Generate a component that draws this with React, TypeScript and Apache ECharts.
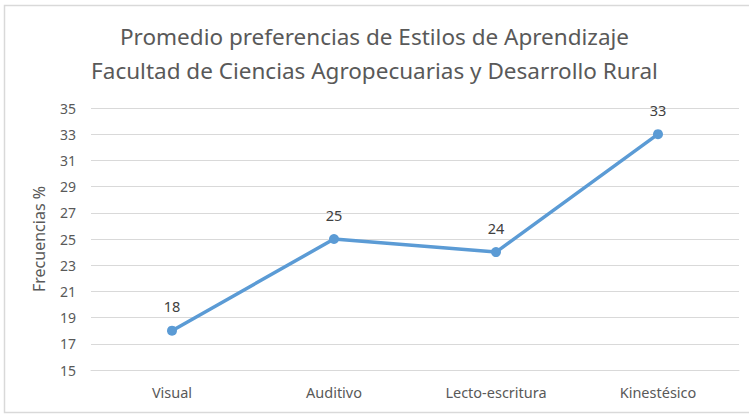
import React, { useEffect, useRef } from "react";
import * as echarts from "echarts";

const categories = ["Visual", "Auditivo", "Lecto-escritura", "Kinestésico"];
const values = [18, 25, 24, 33];
const titleLines = [
  "Promedio preferencias de Estilos de Aprendizaje",
  "Facultad de Ciencias Agropecuarias y Desarrollo Rural",
];
const yAxisName = "Frecuencias %";

export default function App() {
  const ref = useRef<HTMLDivElement>(null);
  useEffect(() => {
    if (!ref.current) return;
    const chart = echarts.init(ref.current, undefined, { renderer: "svg" });
    const font = "'Noto Sans', sans-serif";
    chart.setOption({
      animation: false,
      backgroundColor: "#ffffff",
      textStyle: { fontFamily: font },
      title: {
        text: titleLines.join("\n"),
        left: "center",
        top: 14,
        padding: [5, 0, 5, 12],
        textStyle: {
          fontFamily: font,
          fontSize: 22.5,
          fontWeight: "normal",
          color: "#595959",
          lineHeight: 34,
        },
      },
      graphic: [
        {
          type: "rect",
          shape: { x: 4.5, y: 5.5, width: 760, height: 407 },
          style: { fill: "none", stroke: "#d9d9d9", lineWidth: 1.5 },
          silent: true,
        },
      ],
      grid: { left: 91, right: 10, top: 108, bottom: 45, containLabel: false },
      xAxis: {
        type: "category",
        data: categories,
        boundaryGap: true,
        axisLine: { show: true, lineStyle: { color: "#d9d9d9", width: 1 } },
        axisTick: { show: false },
        axisLabel: {
          color: "#595959",
          fontSize: 14.5,
          fontFamily: font,
          margin: 14,
        },
      },
      yAxis: {
        type: "value",
        min: 15,
        max: 35,
        interval: 2,
        name: yAxisName,
        nameLocation: "middle",
        nameGap: 44,
        nameTextStyle: { color: "#595959", fontSize: 16, fontFamily: font },
        axisLine: { show: false },
        axisTick: { show: false },
        axisLabel: { color: "#595959", fontSize: 14, fontFamily: font, margin: 15 },
        splitLine: { lineStyle: { color: "#d9d9d9", width: 1 } },
      },
      series: [
        {
          type: "line",
          data: values,
          symbol: "circle",
          symbolSize: 10,
          lineStyle: { color: "#5b9bd5", width: 3.5 },
          itemStyle: { color: "#5b9bd5" },
          label: {
            show: true,
            position: "top",
            distance: 12,
            color: "#404040",
            fontSize: 14.5,
            fontFamily: font,
          },
        },
      ],
    });
    return () => chart.dispose();
  }, []);
  return <div ref={ref} style={{ width: 749, height: 415, position: "absolute", left: 0, top: 0 }} />;
}
